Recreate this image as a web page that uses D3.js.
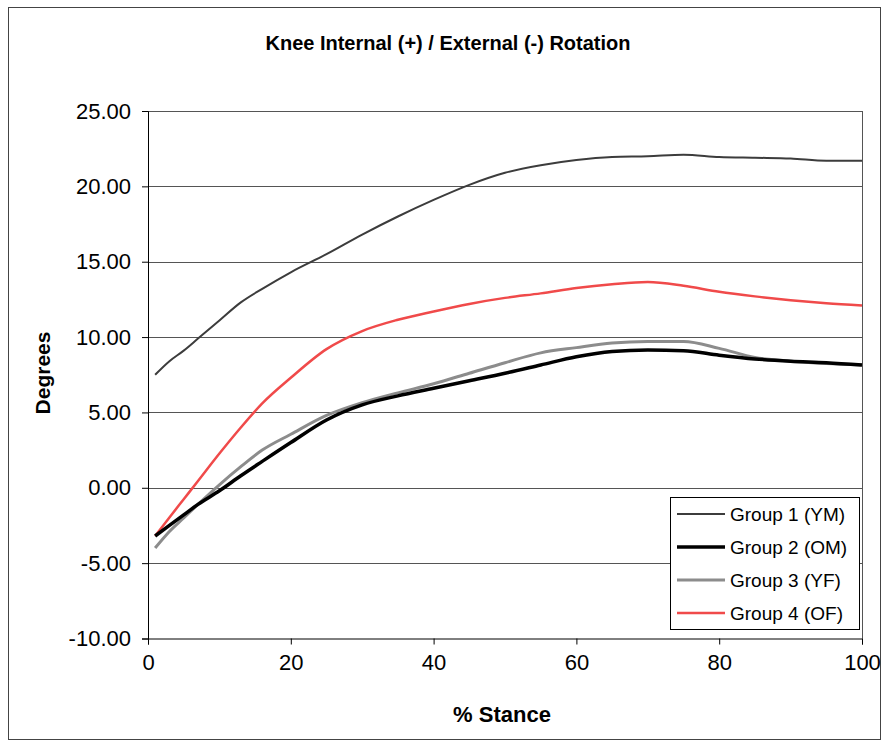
<!DOCTYPE html>
<html>
<head>
<meta charset="utf-8">
<script src="https://cdn.jsdelivr.net/npm/d3@7"></script>
<style>
  body { margin: 0; background: #fff; }
  svg text { font-family: Arial, "Liberation Sans", sans-serif; fill: #000; }
</style>
</head>
<body>
<div id="chart"></div>
<script>
// % stance sample points
const stance = [1, 3, 5, 7, 10, 13, 16, 20, 25, 30, 35, 40, 45, 50, 55, 60, 65, 70, 75, 80, 85, 90, 95, 100];

const group1 = [7.5, 8.4, 9.1, 9.9, 11.1, 12.3, 13.2, 14.3, 15.5, 16.8, 18.0, 19.1, 20.1, 20.9, 21.4, 21.75, 21.95, 22.0, 22.1, 21.95, 21.9, 21.85, 21.7, 21.7];
const group2 = [-3.2, -2.5, -1.8, -1.1, -0.2, 0.8, 1.75, 3.0, 4.5, 5.5, 6.1, 6.6, 7.1, 7.6, 8.15, 8.7, 9.05, 9.15, 9.1, 8.8, 8.55, 8.4, 8.3, 8.15];
const group3 = [-4.0, -2.9, -2.0, -1.1, 0.2, 1.4, 2.5, 3.55, 4.8, 5.65, 6.3, 6.9, 7.6, 8.3, 8.95, 9.3, 9.6, 9.7, 9.7, 9.25, 8.65, 8.4, 8.25, 8.15];
const group4 = [-3.2, -1.97, -0.76, 0.45, 2.27, 4.0, 5.6, 7.3, 9.2, 10.4, 11.15, 11.7, 12.2, 12.6, 12.9, 13.25, 13.5, 13.65, 13.4, 13.0, 12.7, 12.45, 12.25, 12.1];

const seriesNames = ["Group 1 (YM)", "Group 2 (OM)", "Group 3 (YF)", "Group 4 (OF)"];
const yTicks = [-10, -5, 0, 5, 10, 15, 20, 25];
const xTicks = [0, 20, 40, 60, 80, 100];

const width = 883;
const height = 744;

const styles = [
  { color: "#3c3c3c", w: 2 },
  { color: "#000000", w: 3.5 },
  { color: "#8c8c8c", w: 3 },
  { color: "#f04a4a", w: 2.5 }
];

const svg = d3.select("#chart")
  .append("svg")
  .attr("width", width)
  .attr("height", height);

svg.append("rect")
  .attr("x", 8.5).attr("y", 7.5)
  .attr("width", 872).attr("height", 732)
  .attr("fill", "#fff")
  .attr("stroke", "#444");

const x = d3.scaleLinear().domain([0, 100]).range([148, 862]);
const y = d3.scaleLinear().domain([-10, 25]).range([638.5, 111]);

// gridlines
svg.append("g")
  .selectAll("line")
  .data(yTicks.filter(d => d > -10))
  .enter()
  .append("line")
  .attr("x1", x(0)).attr("x2", x(100))
  .attr("y1", d => Math.round(y(d)) + 0.5)
  .attr("y2", d => Math.round(y(d)) + 0.5)
  .attr("stroke", "#555")
  .attr("stroke-width", 1);

// right border of plot area
svg.append("line")
  .attr("x1", x(100) + 0.5).attr("x2", x(100) + 0.5)
  .attr("y1", y(25)).attr("y2", y(-10))
  .attr("stroke", "#555");

const line = d3.line()
  .x(d => x(d[0]))
  .y(d => y(d[1]))
  .curve(d3.curveMonotoneX);

const allSeries = [group1, group2, group3, group4];

// draw order: group 1, group 4, group 3, group 2 on top
[0, 3, 2, 1].forEach(i => {
  svg.append("path")
    .datum(stance.map((s, j) => [s, allSeries[i][j]]))
    .attr("fill", "none")
    .attr("stroke", styles[i].color)
    .attr("stroke-width", styles[i].w)
    .attr("stroke-linejoin", "round")
    .attr("d", line);
});

// axes
const yAxis = d3.axisLeft(y)
  .tickValues(yTicks)
  .tickSize(6)
  .tickPadding(11)
  .tickFormat(d => d.toFixed(2));

svg.append("g")
  .attr("transform", `translate(${x(0)},0)`)
  .call(yAxis)
  .call(g => g.select(".domain").attr("stroke", "#000"))
  .call(g => g.selectAll(".tick line").attr("stroke", "#000"))
  .selectAll("text")
  .style("font-size", "22px");

const xAxis = d3.axisBottom(x)
  .tickValues(xTicks)
  .tickSize(6)
  .tickPadding(10);

svg.append("g")
  .attr("transform", `translate(0,${y(-10)})`)
  .call(xAxis)
  .call(g => g.select(".domain").attr("stroke", "#000"))
  .call(g => g.selectAll(".tick line").attr("stroke", "#000"))
  .selectAll("text")
  .style("font-size", "22px");

// titles
svg.append("text")
  .attr("x", 448).attr("y", 50)
  .attr("text-anchor", "middle")
  .style("font-weight", "bold")
  .style("font-size", "20px")
  .text("Knee Internal (+) / External (-) Rotation");

svg.append("text")
  .attr("x", 502).attr("y", 722)
  .attr("text-anchor", "middle")
  .style("font-weight", "bold")
  .style("font-size", "22px")
  .text("% Stance");

svg.append("text")
  .attr("transform", "translate(50,373) rotate(-90)")
  .attr("text-anchor", "middle")
  .style("font-weight", "bold")
  .style("font-size", "21px")
  .text("Degrees");

// legend
const legend = svg.append("g");
legend.append("rect")
  .attr("x", 670.5).attr("y", 497.5)
  .attr("width", 189).attr("height", 132)
  .attr("fill", "#fff")
  .attr("stroke", "#000");

const legendY = d3.scalePoint().domain(seriesNames).range([514, 613]);

seriesNames.forEach((name, i) => {
  legend.append("line")
    .attr("x1", 677).attr("x2", 725)
    .attr("y1", legendY(name)).attr("y2", legendY(name))
    .attr("stroke", styles[i].color)
    .attr("stroke-width", styles[i].w);
  legend.append("text")
    .attr("x", 730).attr("y", legendY(name))
    .attr("dy", "0.35em")
    .style("font-size", "19px")
    .text(name);
});
</script>
</body>
</html>
